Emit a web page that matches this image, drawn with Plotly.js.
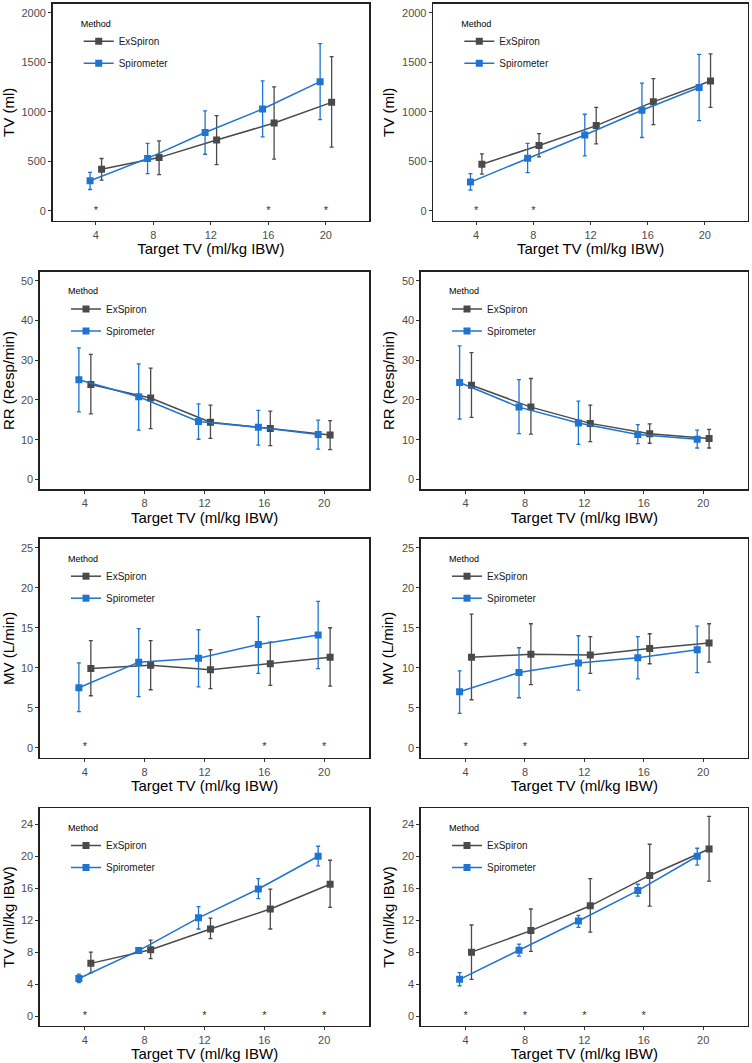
<!DOCTYPE html>
<html>
<head>
<meta charset="utf-8">
<script src="https://cdn.plot.ly/plotly-3.0.1.min.js"></script>
<style>html,body{margin:0;padding:0;background:#fff;}#chart{width:752px;height:1063px;}</style>
</head>
<body>
<div id="chart"></div>
<script>
// ---------- DATA ----------
const targets = [4, 8, 12, 16, 20];
const seriesNames = ['ExSpiron', 'Spirometer'];
const xTickLabels = ['4', '8', '12', '16', '20'];

// Panel 1: TV (ml), left
const p1ExMean = [420, 537, 715, 886, 1095];
const p1ExLo   = [309, 366, 467, 521, 642];
const p1ExHi   = [528, 706, 961, 1252, 1556];
const p1SpMean = [303, 529, 790, 1028, 1304];
const p1SpLo   = [215, 376, 571, 746, 921];
const p1SpHi   = [387, 680, 1008, 1312, 1688];
const p1Sig    = [4, 16, 20];

// Panel 2: TV (ml), right
const p2ExMean = [470, 660, 860, 1100, 1310];
const p2ExLo   = [370, 545, 675, 870, 1045];
const p2ExHi   = [575, 780, 1045, 1335, 1585];
const p2SpMean = [290, 530, 765, 1015, 1245];
const p2SpLo   = [210, 385, 555, 740, 910];
const p2SpHi   = [375, 680, 975, 1290, 1580];
const p2Sig    = [4, 8];

// Panel 3: RR (Resp/min), left
const p3ExMean = [23.9, 20.5, 14.4, 12.8, 11.2];
const p3ExLo   = [16.5, 12.8, 10.3, 8.5, 7.5];
const p3ExHi   = [31.5, 28.0, 18.7, 17.2, 14.8];
const p3SpMean = [25.1, 20.8, 14.6, 13.1, 11.3];
const p3SpLo   = [17.0, 12.4, 10.1, 8.6, 7.6];
const p3SpHi   = [33.1, 29.1, 19.0, 17.4, 14.9];
const p3Sig    = [];

// Panel 4: RR (Resp/min), right
const p4ExMean = [23.7, 18.2, 14.1, 11.5, 10.3];
const p4ExLo   = [15.6, 11.4, 9.5, 9.1, 7.9];
const p4ExHi   = [31.9, 25.4, 18.7, 14.0, 12.6];
const p4SpMean = [24.4, 18.2, 14.2, 11.3, 10.1];
const p4SpLo   = [15.2, 11.5, 8.8, 9.0, 7.9];
const p4SpHi   = [33.6, 25.1, 19.7, 13.8, 12.4];
const p4Sig    = [];

// Panel 5: MV (L/min), left
const p5ExMean = [9.9, 10.3, 9.75, 10.5, 11.3];
const p5ExLo   = [6.5, 7.25, 7.4, 7.8, 7.7];
const p5ExHi   = [13.4, 13.4, 12.25, 13.2, 15.0];
const p5SpMean = [7.5, 10.7, 11.2, 12.9, 14.1];
const p5SpLo   = [4.5, 6.4, 7.6, 9.3, 9.9];
const p5SpHi   = [10.6, 14.9, 14.75, 16.4, 18.3];
const p5Sig    = [4, 16, 20];

// Panel 6: MV (L/min), right
const p6ExMean = [11.3, 11.7, 11.6, 12.4, 13.1];
const p6ExLo   = [6.0, 7.9, 9.3, 10.5, 10.7];
const p6ExHi   = [16.7, 15.5, 13.9, 14.25, 15.5];
const p6SpMean = [7.0, 9.4, 10.6, 11.25, 12.25];
const p6SpLo   = [4.3, 6.25, 7.2, 8.6, 9.4];
const p6SpHi   = [9.6, 12.5, 14.0, 13.9, 15.2];
const p6Sig    = [4, 8];

// Panel 7: TV (ml/kg IBW), left
const p7ExMean = [6.6, 8.3, 10.9, 13.4, 16.5];
const p7ExLo   = [5.4, 7.2, 9.7, 10.9, 13.6];
const p7ExHi   = [8.0, 9.5, 12.25, 15.9, 19.5];
const p7SpMean = [4.7, 8.2, 12.3, 15.9, 20.0];
const p7SpLo   = [4.2, 7.9, 10.9, 14.7, 18.8];
const p7SpHi   = [5.25, 8.4, 13.7, 17.2, 21.25];
const p7Sig    = [4, 12, 16, 20];

// Panel 8: TV (ml/kg IBW), right
const p8ExMean = [8.0, 10.7, 13.8, 17.6, 20.9];
const p8ExLo   = [4.6, 8.1, 10.5, 13.75, 16.9];
const p8ExHi   = [11.4, 13.4, 17.2, 21.5, 25.0];
const p8SpMean = [4.6, 8.25, 11.9, 15.7, 20.0];
const p8SpLo   = [3.8, 7.5, 11.1, 15.0, 18.9];
const p8SpHi   = [5.45, 9.0, 12.6, 16.5, 21.0];
const p8Sig    = [4, 8, 12, 16];

const yTitles = ['TV (ml)', 'TV (ml)', 'RR (Resp/min)', 'RR (Resp/min)',
                 'MV (L/min)', 'MV (L/min)', 'TV (ml/kg IBW)', 'TV (ml/kg IBW)'];
const yTicks = [
  [0, 500, 1000, 1500, 2000], [0, 500, 1000, 1500, 2000],
  [0, 10, 20, 30, 40, 50], [0, 10, 20, 30, 40, 50],
  [0, 5, 10, 15, 20, 25], [0, 5, 10, 15, 20, 25],
  [0, 4, 8, 12, 16, 20, 24], [0, 4, 8, 12, 16, 20, 24]
];
const xTitle = 'Target TV (ml/kg IBW)';
const legendTitle = 'Method';

// ---------- STYLE / LAYOUT ----------
const W = 752, H = 1063;
const COL_EX = '#4a4a4a';
const COL_SP = '#1f74d1';
const DODGE = 0.4;
const FONT = 'Liberation Sans, Arial, Helvetica, sans-serif';

const panels = [
  {ex:[p1ExMean,p1ExLo,p1ExHi], sp:[p1SpMean,p1SpLo,p1SpHi], sig:p1Sig, yr:[-100,2088], box:[52.7,369,4,220.7]},
  {ex:[p2ExMean,p2ExLo,p2ExHi], sp:[p2SpMean,p2SpLo,p2SpHi], sig:p2Sig, yr:[-100,2088], box:[433.3,747.7,4,220.7]},
  {ex:[p3ExMean,p3ExLo,p3ExHi], sp:[p3SpMean,p3SpLo,p3SpHi], sig:p3Sig, yr:[-2.5,52.3], box:[40,369,271.7,489.3]},
  {ex:[p4ExMean,p4ExLo,p4ExHi], sp:[p4SpMean,p4SpLo,p4SpHi], sig:p4Sig, yr:[-2.5,52.3], box:[421,747.7,271.7,489.3]},
  {ex:[p5ExMean,p5ExLo,p5ExHi], sp:[p5SpMean,p5SpLo,p5SpHi], sig:p5Sig, yr:[-1.25,26.1], box:[40,369,539,757.7]},
  {ex:[p6ExMean,p6ExLo,p6ExHi], sp:[p6SpMean,p6SpLo,p6SpHi], sig:p6Sig, yr:[-1.25,26.1], box:[421,747.7,539,757.7]},
  {ex:[p7ExMean,p7ExLo,p7ExHi], sp:[p7SpMean,p7SpLo,p7SpHi], sig:p7Sig, yr:[-1.2,26.0], box:[40,369,808.3,1025.7]},
  {ex:[p8ExMean,p8ExLo,p8ExHi], sp:[p8SpMean,p8SpLo,p8SpHi], sig:p8Sig, yr:[-1.2,26.0], box:[421,747.7,808.3,1025.7]}
];

const data = [];
const layout = {
  width: W, height: H,
  margin: {l:0, r:0, t:0, b:0},
  paper_bgcolor: '#fff', plot_bgcolor: '#fff',
  font: {family: FONT, color: '#000'},
  showlegend: true
};

function errObj(mean, lo, hi, color) {
  return {
    type: 'data', symmetric: false,
    array: mean.map((m, i) => hi[i] - m),
    arrayminus: mean.map((m, i) => m - lo[i]),
    color: color, thickness: 1.3, width: 2
  };
}

panels.forEach((p, k) => {
  const n = k + 1;
  const xa = n === 1 ? 'x' : 'x' + n;
  const ya = n === 1 ? 'y' : 'y' + n;
  const lg = n === 1 ? 'legend' : 'legend' + n;
  const [l, r, t, b] = p.box;

  layout[n === 1 ? 'xaxis' : 'xaxis' + n] = {
    domain: [l / W, r / W], anchor: ya,
    range: [1, 23], tickvals: targets, ticktext: xTickLabels,
    showgrid: false, zeroline: false,
    showline: true, mirror: true, linecolor: '#222', linewidth: 1.6,
    ticks: 'outside', ticklen: 3, tickwidth: 1, tickcolor: '#333',
    tickfont: {size: 11, color: '#4d4d4d', family: FONT},
    title: {text: xTitle, font: {size: 15, color: '#000', family: FONT}, standoff: 4},
    automargin: false
  };
  layout[n === 1 ? 'yaxis' : 'yaxis' + n] = {
    domain: [1 - b / H, 1 - t / H], anchor: xa,
    range: p.yr, tickvals: yTicks[k],
    showgrid: false, zeroline: false,
    showline: true, mirror: true, linecolor: '#222', linewidth: 1.6,
    ticks: 'outside', ticklen: 3, tickwidth: 1, tickcolor: '#333',
    tickfont: {size: 11, color: '#4d4d4d', family: FONT},
    title: {text: yTitles[k], font: {size: 15, color: '#000', family: FONT}, standoff: 4},
    automargin: false
  };
  layout[lg] = {
    x: (l + 26) / W, y: 1 - (t + 11) / H, xanchor: 'left', yanchor: 'top',
    bgcolor: 'rgba(0,0,0,0)', borderwidth: 0,
    font: {size: 10, color: '#1a1a1a', family: FONT},
    title: {text: legendTitle, font: {size: 9, color: '#000', family: FONT}, side: 'top'},
    itemwidth: 30, tracegroupgap: 3
  };

  const series = [[seriesNames[0], p.ex, COL_EX, DODGE], [seriesNames[1], p.sp, COL_SP, -DODGE]];
  series.forEach(([name, arr, col, off], si) => {
    const [mean, lo, hi] = arr;
    data.push({
      type: 'scatter', mode: 'lines+markers', name: name,
      legendgroup: 'g' + n + '_' + si,
      x: targets.map(v => v + off), y: mean,
      xaxis: xa, yaxis: ya, legend: lg,
      line: {color: col, width: 1.5},
      marker: {symbol: 'square', size: 7, color: col},
      error_y: errObj(mean, lo, hi, col),
      hoverinfo: 'x+y'
    });
  });
  if (p.sig.length) {
    data.push({
      type: 'scatter', mode: 'text', showlegend: false,
      x: p.sig, y: p.sig.map(() => 0), text: p.sig.map(() => '*'),
      textposition: 'middle center',
      textfont: {size: 11, color: '#333', family: FONT},
      xaxis: xa, yaxis: ya, legend: lg, hoverinfo: 'skip'
    });
  }
});

Plotly.newPlot('chart', data, layout, {staticPlot: true, displayModeBar: false});
</script>
</body>
</html>
